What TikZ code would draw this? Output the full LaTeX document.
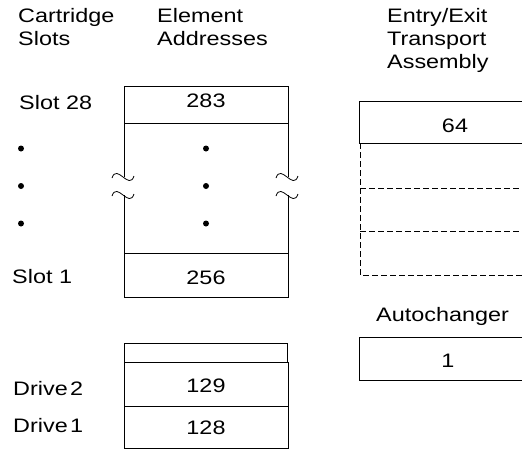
\documentclass[tikz,border=0pt]{standalone}
\usepackage{fontspec}
\setmainfont[FakeStretch=1.2]{Liberation Sans}
\begin{document}
\begin{tikzpicture}[x=1pt,y=-1pt,
  txt/.style={inner sep=0pt,font=\fontsize{19.5}{23}\selectfont},
  lt/.style={txt,anchor=base west},
  ct/.style={txt,anchor=base},
  box/.style={draw,line width=0.9pt},
  dsh/.style={draw,line width=0.8pt,dash pattern=on 5.5pt off 3.5pt},
  dotc/.style={fill=black},
  tl/.style={draw,line width=0.8pt}]
\useasboundingbox (0,0) rectangle (522,450);
% headers
\node[lt] (h1a) at (18,22) {Cartridge};
\node[lt] (h1b) at (18,45) {Slots};
\node[lt] (h2a) at (157,22) {Element};
\node[lt] (h2b) at (157,45) {Addresses};
\node[lt] (h3a) at (387,22) {Entry/Exit};
\node[lt] (h3b) at (387,45) {Transport};
\node[lt] (h3c) at (387,68) {Assembly};
% left labels
\node[lt] (s28) at (19,109) {Slot 28};
\node[lt] (s1) at (12,283) {Slot 1};
\node[lt] (d2) at (13,395) {Drive\hspace{0.12em}2};
\node[lt] (d1) at (13,432) {Drive\hspace{0.12em}1};
\foreach \y in {148.5,186,223.5}{
  \fill[dotc] (21,\y) circle (3);
  \fill[dotc] (206,\y) circle (3);
}
% main column
\draw[box] (124,86) rectangle (288,123);
\draw[box] (124,253) rectangle (288,297);
\draw[box] (124,123) -- (124,177) (124,195) -- (124,253);
\draw[box] (288,123) -- (288,177) (288,195) -- (288,253);
\foreach \xc in {124,288}{
  \foreach \yc in {177,195}{
    \draw[tl] (\xc-12,\yc+1) .. controls (\xc-7,\yc-14) and (\xc+5,\yc+14) .. (\xc+10,\yc-1);
  }
}
\node[ct] (n283) at (206,107) {283};
\node[ct] (n256) at (206,284) {256};
% drives
\draw[box] (124,343) rectangle (287,362);
\draw[box] (124,362) rectangle (288,406);
\draw[box] (124,406) rectangle (288,448);
\node[ct] (n129) at (206,392) {129};
\node[ct] (n128) at (206,434) {128};
% entry/exit
\draw[box] (530,101) -- (359,101) -- (359,143) -- (530,143);
\node[ct] (n64) at (455,132) {64};
\draw[dsh] (360,143) -- (360,275) -- (530,275);
\draw[dsh] (360,188) -- (530,188);
\draw[dsh] (360,231) -- (530,231);
% autochanger
\node[lt] (ac) at (376,321) {Autochanger};
\draw[box] (530,337) -- (359,337) -- (359,380) -- (530,380);
\node[ct] (n1) at (448,367) {1};
\end{tikzpicture}
\end{document}
